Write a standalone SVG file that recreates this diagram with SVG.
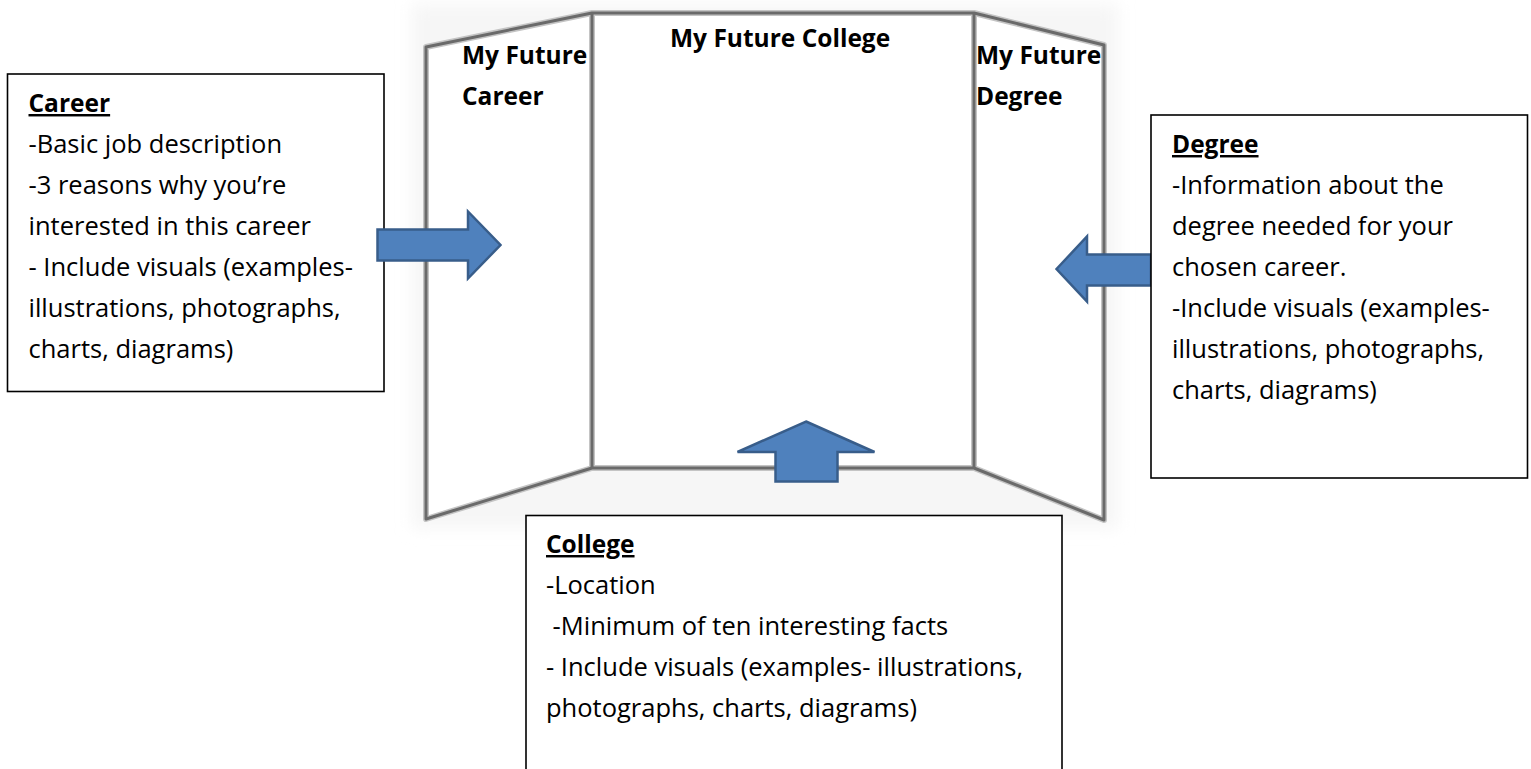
<svg xmlns="http://www.w3.org/2000/svg" width="1531" height="769" viewBox="0 0 1531 769">
<style>
  .t { font-family: "Open Sans", "Noto Sans", "Liberation Sans", sans-serif; font-size: 25.5px; fill: #000; }
  .b { font-family: "Open Sans", "Noto Sans", "Liberation Sans", sans-serif; font-size: 24.5px; font-weight: bold; fill: #000; }
  .u { text-decoration: underline; }
  .box { fill: #fff; stroke: #000; stroke-width: 1.6; }
  .edge { fill: none; stroke: #6a6a6a; stroke-width: 3; stroke-linejoin: round; }
  .halo { fill: none; stroke: #c4c4c4; stroke-width: 6; stroke-linejoin: round; }
  .arrow { fill: #4F81BD; stroke: #385D8A; stroke-width: 2.5; stroke-linejoin: miter; }
</style>
<defs>
  <filter id="soft" x="-5%" y="-5%" width="110%" height="110%">
    <feGaussianBlur stdDeviation="0.7"/>
  </filter>
  <filter id="haze" x="-10%" y="-10%" width="120%" height="120%">
    <feGaussianBlur stdDeviation="8"/>
  </filter>
</defs>
<rect width="1531" height="769" fill="#fff"/>

<g id="board">
  <rect x="412" y="4" width="706" height="524" fill="#f6f6f6" filter="url(#haze)"/>
  <polygon points="426,47 592,13 974,13 1104,45 1104,520 974,468 592,468 426,519" fill="#fff"/>
  <g filter="url(#soft)">
    <polygon class="halo" points="426,47 592,13 974,13 1104,45 1104,520 974,468 592,468 426,519"/>
    <line class="halo" x1="592" y1="13" x2="592" y2="468"/>
    <line class="halo" x1="974" y1="13" x2="974" y2="468"/>
    <polygon class="edge" points="426,47 592,13 974,13 1104,45 1104,520 974,468 592,468 426,519"/>
    <line class="edge" x1="592" y1="13" x2="592" y2="468"/>
    <line class="edge" x1="974" y1="13" x2="974" y2="468"/>
  </g>
  <text class="b" x="670" y="47">My Future College</text>
  <text class="b" x="462" y="64">My Future</text>
  <text class="b" x="462" y="105">Career</text>
  <text class="b" x="976" y="64">My Future</text>
  <text class="b" x="976" y="105">Degree</text>
</g>

<g id="node-career">
  <rect class="box" x="7.5" y="74" width="376.5" height="317.5"/>
  <text class="b u" x="28.5" y="112">Career</text>
  <text class="t" x="28.5" y="153">-Basic job description</text>
  <text class="t" x="28.5" y="194">-3 reasons why you’re</text>
  <text class="t" x="28.5" y="235">interested in this career</text>
  <text class="t" x="28.5" y="276">- Include visuals (examples-</text>
  <text class="t" x="28.5" y="317">illustrations, photographs,</text>
  <text class="t" x="28.5" y="358">charts, diagrams)</text>
</g>

<g id="connectors">
  <path id="arrow-career" class="arrow" d="M377.5,229.5 H468 V211.5 L500.5,245 L468,278.5 V260.5 H377.5 Z"/>
  <path id="arrow-degree" class="arrow" d="M1056.5,269 L1087,236.5 V254.5 H1151 V285.5 H1087 V301.5 Z"/>
  <path id="arrow-college" class="arrow" d="M806,421.5 L874.5,452 H837.5 V481.5 H775.5 V452 H737.5 Z"/>
</g>

<g id="node-degree">
  <rect class="box" x="1151" y="115" width="376.5" height="363"/>
  <text class="b u" x="1172" y="153">Degree</text>
  <text class="t" x="1172" y="194">-Information about the</text>
  <text class="t" x="1172" y="235">degree needed for your</text>
  <text class="t" x="1172" y="276">chosen career.</text>
  <text class="t" x="1172" y="317">-Include visuals (examples-</text>
  <text class="t" x="1172" y="358">illustrations, photographs,</text>
  <text class="t" x="1172" y="399">charts, diagrams)</text>
</g>

<g id="node-college">
  <rect class="box" x="526" y="515.5" width="536" height="270"/>
  <text class="b u" x="546" y="553">College</text>
  <text class="t" x="546" y="594">-Location</text>
  <text class="t" x="546" y="635" xml:space="preserve"> -Minimum of ten interesting facts</text>
  <text class="t" x="546" y="676">- Include visuals (examples- illustrations,</text>
  <text class="t" x="546" y="717">photographs, charts, diagrams)</text>
</g>
</svg>
